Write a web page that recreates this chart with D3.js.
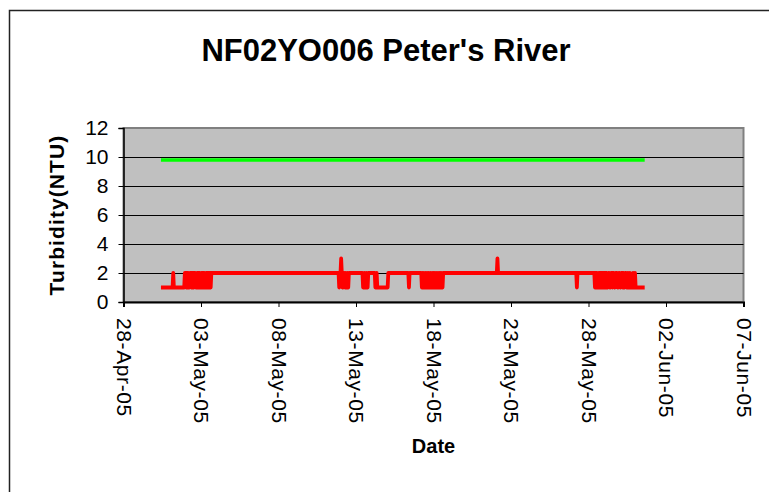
<!DOCTYPE html>
<html>
<head>
<meta charset="utf-8">
<script src="https://cdn.jsdelivr.net/npm/d3@7"></script>
<style>
  body { margin: 0; background: #fff; }
  text { font-family: "Liberation Sans", Arial, sans-serif; }
</style>
</head>
<body>
<svg id="chart" width="769" height="492"></svg>
<script>
//////////
// Data //
//////////
// hourly turbidity readings (NTU), one string per day, first reading below
const firstReading = "2005-04-30 10:00";
const hourlyTurbidity = [
  "11111111111111",           // 30-Apr (from 10:00)
  "111112111111111111111112", // 01-May
  "212121122121212211212121", // 02-May
  "121212112121212122222222", // 03-May
  "222222222222222222222222", // 04-May
  "222222222222222222222222", // 05-May
  "222222222222222222222222", // 06-May
  "222222222222222222222222", // 07-May
  "222222222222222222222222", // 08-May
  "222222222222222222222222", // 09-May
  "222222222222222222222222", // 10-May
  "222222222222222222222212", // 11-May
  "232112212112122222222222", // 12-May
  "222222222221121121122222", // 13-May
  "222222112111111111111111", // 14-May
  "112222222222222222222222", // 15-May
  "222222222212222222222222", // 16-May
  "222222121211212121121121", // 17-May
  "212121121212121222222222", // 18-May
  "222222222222222222222222", // 19-May
  "222222222222222222222222", // 20-May
  "222222222222222222222222", // 21-May
  "222322222222222222222222", // 22-May
  "222222222222222222222222", // 23-May
  "222222222222222222222222", // 24-May
  "222222222222222222222222", // 25-May
  "222222222222222222222222", // 26-May
  "222222122222222222222222", // 27-May
  "222222222212121121212121", // 28-May
  "212121122112212211222112", // 29-May
  "211221211221121121111211", // 30-May
  "2111111111111111"          // 31-May (to 15:00)
];
// guideline drawn over the same period
const guidelineValue = 9.8;

const yTicks = [0, 2, 4, 6, 8, 10, 12];
const xTickLabels = ["28-Apr-05", "03-May-05", "08-May-05", "13-May-05", "18-May-05",
  "23-May-05", "28-May-05", "02-Jun-05", "07-Jun-05"];

const titleText = "NF02YO006 Peter's River";
const xTitle = "Date";
const yTitle = "Turbidity(NTU)";

//////////////////////////
// Chart specifications //
//////////////////////////
const plot = { left: 123.5, right: 743.5, top: 128, bottom: 302 };
const fontFamily = "'Liberation Sans', Arial, sans-serif";

const parseTime = d3.timeParse("%Y-%m-%d %H:%M");
const parseTick = d3.timeParse("%d-%b-%y");
const formatTick = d3.timeFormat("%d-%b-%y");

const t0 = parseTime(firstReading);
const readings = hourlyTurbidity.join("").split("").map((c, i) => ({
  date: d3.timeHour.offset(t0, i),
  value: +c
}));
const tickDates = xTickLabels.map(parseTick);

const x = d3.scaleTime()
  .domain([tickDates[0], tickDates[tickDates.length - 1]])
  .range([plot.left, plot.right]);
const y = d3.scaleLinear().domain([0, 12]).range([plot.bottom, plot.top]);

const svg = d3.select("#chart");

// outer chart border (runs off the right and bottom of the picture)
svg.append("rect")
  .attr("x", 9.5).attr("y", 10.5)
  .attr("width", 800).attr("height", 520)
  .attr("fill", "#fff").attr("stroke", "#222").attr("stroke-width", 1.5);

// plot area
svg.append("rect")
  .attr("x", plot.left).attr("y", plot.top)
  .attr("width", plot.right - plot.left).attr("height", plot.bottom - plot.top)
  .attr("fill", "#c0c0c0").attr("stroke", "#808080").attr("stroke-width", 2);

// gridlines
svg.append("g")
  .selectAll("line")
  .data(yTicks.slice(1, -1))
  .join("line")
  .attr("x1", plot.left).attr("x2", plot.right)
  .attr("y1", (d) => Math.round(y(d)) + 0.5).attr("y2", (d) => Math.round(y(d)) + 0.5)
  .attr("stroke", "#000").attr("stroke-width", 1);

// y axis
let yAxis = (g) =>
  g
    .attr("transform", `translate(${plot.left},0)`)
    .call(d3.axisLeft(y).tickValues(yTicks).tickSize(5).tickPadding(10))
    .call((g) => g.select(".domain").attr("stroke", "#000").attr("stroke-width", 1.5))
    .call((g) => g.selectAll(".tick line").attr("stroke", "#000"))
    .call((g) => g.selectAll(".tick text")
      .attr("font-size", 21).attr("fill", "#000")
      .attr("font-family", fontFamily));
svg.append("g").call(yAxis);

// x axis
let xAxis = (g) =>
  g
    .attr("transform", `translate(0,${plot.bottom})`)
    .call(d3.axisBottom(x).tickValues(tickDates).tickFormat(formatTick).tickSize(5))
    .call((g) => g.select(".domain").attr("stroke", "#000").attr("stroke-width", 2))
    .call((g) => g.selectAll(".tick line").attr("stroke", "#000"))
    .call((g) => g.selectAll(".tick text")
      .attr("font-size", 21).attr("fill", "#000")
      .attr("font-family", fontFamily)
      .attr("letter-spacing", 0.6)
      .attr("transform", "rotate(90)")
      .attr("x", 16).attr("y", 0).attr("dy", "0.35em")
      .attr("text-anchor", "start"));
svg.append("g").call(xAxis);

// series
const line = d3.line().x((d) => x(d.date)).y((d) => y(d.value));

const timeExtent = d3.extent(readings, (d) => d.date);
svg.append("path")
  .datum(timeExtent.map((d) => ({ date: d, value: guidelineValue })))
  .attr("d", line)
  .attr("fill", "none").attr("stroke", "#00ff00").attr("stroke-width", 3.5);

svg.append("path")
  .datum(readings)
  .attr("d", line)
  .attr("fill", "none").attr("stroke", "#ff0000").attr("stroke-width", 3.8)
  .attr("stroke-linejoin", "round");

// titles
svg.append("text")
  .attr("x", 386).attr("y", 61)
  .attr("text-anchor", "middle")
  .attr("font-size", 31).attr("font-weight", "bold")
  .text(titleText);

svg.append("text")
  .attr("x", (plot.left + plot.right) / 2).attr("y", 453)
  .attr("text-anchor", "middle")
  .attr("font-size", 20).attr("font-weight", "bold")
  .text(xTitle);

svg.append("text")
  .attr("transform", `translate(64,${(plot.top + plot.bottom) / 2}) rotate(-90)`)
  .attr("text-anchor", "middle")
  .attr("font-size", 21).attr("font-weight", "bold")
  .attr("letter-spacing", 1.1)
  .text(yTitle);
</script>
</body>
</html>
